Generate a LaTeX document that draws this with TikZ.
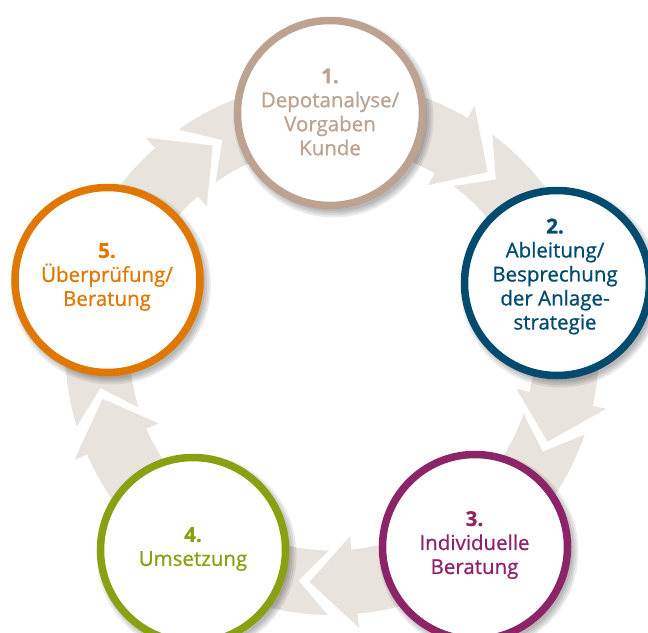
\documentclass[tikz,border=0pt]{standalone}
\usepackage{fontspec}
\setmainfont{Open Sans}[FakeBold=0.8]
\newfontfamily\stagefont{Open Sans}[FakeBold=0.8]
\definecolor{cA}{RGB}{187,162,145}
\definecolor{cB}{RGB}{0,75,110}
\definecolor{cC}{RGB}{140,36,104}
\definecolor{cD}{RGB}{137,160,18}
\definecolor{cE}{RGB}{224,120,0}
\definecolor{ringc}{RGB}{233,227,222}
\tikzset{
  ringseg/.style={fill=ringc},
  shadowlayer/.style={fill=black, opacity=0.08},
  stage/.style={circle, draw=#1, line width=7.5pt, fill=white, minimum size=185pt, inner sep=0pt},
  stagetext/.style={text=#1, align=center, font=\stagefont\fontsize{20.5}{24}\selectfont}
}
\begin{document}
\begin{tikzpicture}[x=1pt,y=1pt]
\useasboundingbox (0,0) rectangle (648,-632);
\begin{scope}[shift={(332,-348)}]
\foreach \h in {120.5,48.5,-23.5,-95.5,-167.5}{
  \pgfmathsetmacro\t{\h+72-2.7}
  \pgfmathsetmacro\tc{\t+7.3}
  \pgfmathsetmacro\hb{\h+11}
  \fill[ringseg] (\tc:267) -- (\t:235) -- (\tc:202.5)
    arc[start angle=\tc, end angle=\hb, radius=202.5]
    -- (\hb:189) -- (\h:235) -- (\hb:281) -- (\hb:267)
    arc[start angle=\hb, end angle=\tc, radius=267] -- cycle;
}
\end{scope}
\coordinate (p1) at (330,-113);
\coordinate (p2) at (557,-283);
\coordinate (p3) at (475,-547);
\coordinate (p4) at (193,-550);
\coordinate (p5) at (107.5,-280);
\foreach \p in {p1,p2,p3,p4,p5}{
  \foreach \r in {100,98,96,94}{
    \fill[shadowlayer] ([shift={(3.5,-4.5)}]\p) circle[radius=\r];
  }
}
\node[stage=cA] (s1) at (p1) {};
\node[stage=cB] (s2) at (p2) {};
\node[stage=cC] (s3) at (p3) {};
\node[stage=cD] (s4) at (p4) {};
\node[stage=cE] (s5) at (p5) {};
\node[stagetext=cA] (t1) at (330,-112) {\textbf{1.}\\Depotanalyse/\\Vorgaben\\Kunde};
\node[stagetext=cB] (t2) at (555,-276.5) {\textbf{2.}\\Ableitung/\\Besprechung\\der Anlage-\\strategie};
\node[stagetext=cC] (t3) at (474.5,-545) {\textbf{3.}\\Individuelle\\Beratung};
\node[stagetext=cD] (t4) at (193,-549) {\textbf{4.}\\Umsetzung};
\node[stagetext=cE] (t5) at (107,-277) {\textbf{5.}\\Überprüfung/\\Beratung};
\end{tikzpicture}
\end{document}
